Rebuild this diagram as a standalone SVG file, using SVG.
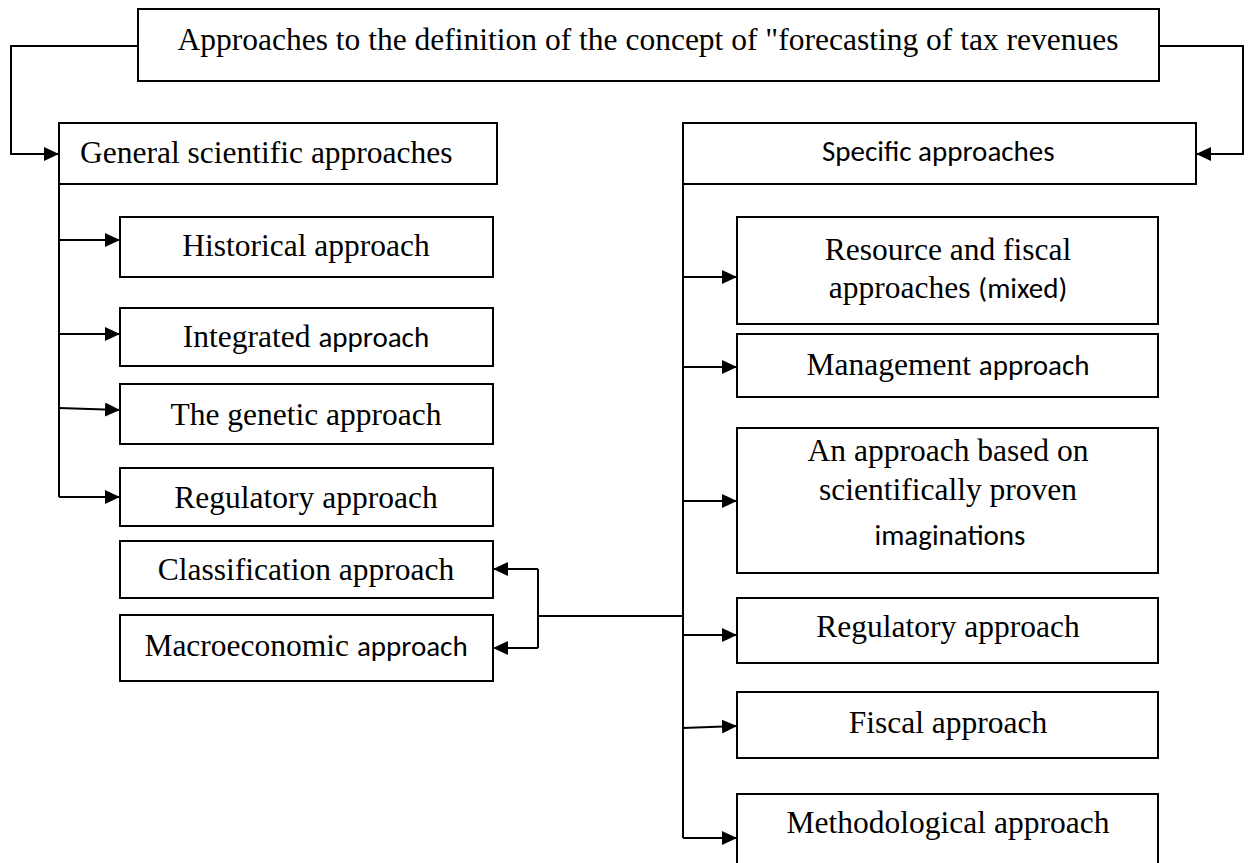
<svg xmlns="http://www.w3.org/2000/svg" width="1250" height="863" viewBox="0 0 1250 863">
<style>
.box{fill:#fff;stroke:#000;stroke-width:2}
.t{font-family:"Liberation Serif","Times New Roman",serif;font-size:31.5px;fill:#000}
.s{font-family:Carlito,Lato,sans-serif;font-size:29px}
.c{fill:none;stroke:#000;stroke-width:2}
.a{marker-end:url(#arr)}
</style>
<defs>
<marker id="arr" markerUnits="userSpaceOnUse" markerWidth="15" markerHeight="14" refX="15" refY="7" orient="auto">
<path d="M0,0 L15,7 L0,14 Z" fill="#000"/>
</marker>
</defs>
<rect width="1250" height="863" fill="#fff"/>
<g id="connectors">
<path class="c a" d="M138,46 H11 V154 H59"/>
<path class="c a" d="M1159,46 H1243 V154 H1196"/>
<path class="c" d="M59,184 V497"/>
<path class="c a" d="M59,240 H120"/>
<path class="c a" d="M59,334 H120"/>
<path class="c a" d="M59,408 L120,410"/>
<path class="c a" d="M59,497 H120"/>
<path class="c" d="M683,184 V838"/>
<path class="c a" d="M683,277 H737"/>
<path class="c a" d="M683,367 H737"/>
<path class="c a" d="M683,501 H737"/>
<path class="c a" d="M683,635 H737"/>
<path class="c a" d="M683,728 L737,726"/>
<path class="c a" d="M683,838 H737"/>
<path class="c" d="M683,616 H538 M538,569 V648"/>
<path class="c a" d="M538,569 H493"/>
<path class="c a" d="M538,648 H493"/>
</g>
<g id="root">
<rect class="box" x="138" y="9" width="1021" height="72"/>
<text class="t" x="648" y="50" text-anchor="middle">Approaches to the definition of the concept of "forecasting of tax revenues</text>
</g>
<g id="general">
<rect class="box" x="59" y="123" width="438" height="61"/>
<text class="t" x="80" y="163">General scientific approaches</text>
</g>
<g id="specific">
<rect class="box" x="683" y="123" width="513" height="61"/>
<text class="t s" x="822" y="161">Specific approaches</text>
</g>
<g id="historical">
<rect class="box" x="120" y="217" width="373" height="60"/>
<text class="t" x="306" y="256" text-anchor="middle">Historical approach</text>
</g>
<g id="integrated">
<rect class="box" x="120" y="308" width="373" height="58"/>
<text class="t" x="306" y="347" text-anchor="middle">Integrated <tspan class="s">approach</tspan></text>
</g>
<g id="genetic">
<rect class="box" x="120" y="384" width="373" height="60"/>
<text class="t" x="306" y="425" text-anchor="middle">The genetic approach</text>
</g>
<g id="regulatory-left">
<rect class="box" x="120" y="468" width="373" height="58"/>
<text class="t" x="306" y="508" text-anchor="middle">Regulatory approach</text>
</g>
<g id="classification">
<rect class="box" x="120" y="541" width="373" height="57"/>
<text class="t" x="306" y="580" text-anchor="middle">Classification approach</text>
</g>
<g id="macroeconomic">
<rect class="box" x="120" y="615" width="373" height="66"/>
<text class="t" x="306" y="656" text-anchor="middle">Macroeconomic <tspan class="s">approach</tspan></text>
</g>
<g id="resource">
<rect class="box" x="737" y="217" width="421" height="107"/>
<text class="t" x="948" y="260" text-anchor="middle">Resource and fiscal</text>
<text class="t" x="948" y="298" text-anchor="middle">approaches <tspan class="s">(mixed)</tspan></text>
</g>
<g id="management">
<rect class="box" x="737" y="334" width="421" height="63"/>
<text class="t" x="948" y="375" text-anchor="middle">Management <tspan class="s">approach</tspan></text>
</g>
<g id="scientific">
<rect class="box" x="737" y="428" width="421" height="145"/>
<text class="t" x="948" y="461" text-anchor="middle">An approach based on</text>
<text class="t" x="948" y="500" text-anchor="middle">scientifically proven</text>
<text class="t s" x="950" y="545" text-anchor="middle">imaginations</text>
</g>
<g id="regulatory-right">
<rect class="box" x="737" y="598" width="421" height="65"/>
<text class="t" x="948" y="637" text-anchor="middle">Regulatory approach</text>
</g>
<g id="fiscal">
<rect class="box" x="737" y="692" width="421" height="66"/>
<text class="t" x="948" y="733" text-anchor="middle">Fiscal approach</text>
</g>
<g id="methodological">
<rect class="box" x="737" y="794" width="421" height="74"/>
<text class="t" x="948" y="833" text-anchor="middle">Methodological approach</text>
</g>
</svg>
